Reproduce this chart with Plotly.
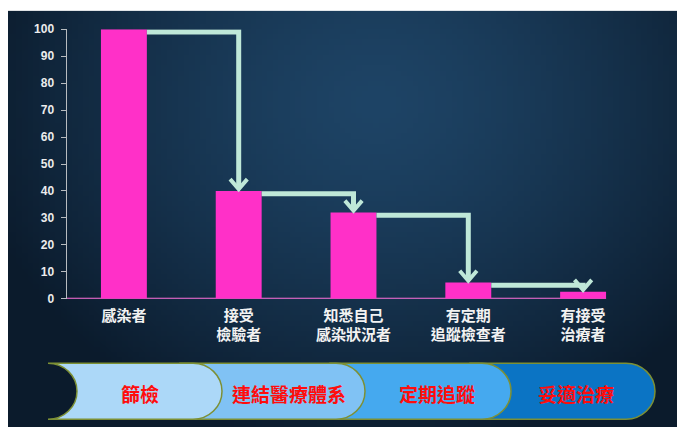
import base64
import struct
import zlib

import plotly.graph_objects as go

# ---------------- data ----------------
categories = ["感染者", "接受<br>檢驗者", "知悉自己<br>感染狀況者", "有定期<br>追蹤檢查者", "有接受<br>治療者"]
values = [100, 40, 32, 6, 2.6]
y_tick_values = [0, 10, 20, 30, 40, 50, 60, 70, 80, 90, 100]
stages = ["篩檢", "連結醫療體系", "定期追蹤", "妥適治療"]

W, H = 683, 434


# ---------------- background vignette (png generated locally) ----------------
def make_png(w, h, fn):
    rows = []
    for j in range(h):
        row = bytearray([0])
        for i in range(w):
            row.extend(fn(i / (w - 1), j / (h - 1)))
        rows.append(bytes(row))
    raw = b"".join(rows)

    def chunk(tag, data):
        c = struct.pack(">I", len(data)) + tag + data
        return c + struct.pack(">I", zlib.crc32(tag + data) & 0xFFFFFFFF)

    png = b"\x89PNG\r\n\x1a\n"
    png += chunk(b"IHDR", struct.pack(">IIBBBBB", w, h, 8, 2, 0, 0, 0))
    png += chunk(b"IDAT", zlib.compress(raw, 9))
    png += chunk(b"IEND", b"")
    return "data:image/png;base64," + base64.b64encode(png).decode()


center_c = (30, 68, 102)
edge_c = (11, 27, 44)


def vignette(u, v):
    d = (((u - 0.55) / 0.62) ** 2 + ((v - 0.22) / 0.85) ** 2) ** 0.5
    t = min(1.0, d) ** 1.4
    return [int(center_c[k] + (edge_c[k] - center_c[k]) * t) for k in range(3)]


bg_src = make_png(120, 80, vignette)

# ---------------- figure ----------------
fig = go.Figure()
fig.add_trace(
    go.Bar(
        x=list(range(len(values))),
        y=values,
        width=0.4,
        marker=dict(color="#ff30c8", line=dict(width=0)),
        hoverinfo="skip",
    )
)

x0_dom = 66.5 / W
x1_dom = 640.5 / W
y0_dom = (H - 301.5) / H
y1_dom = (H - 23) / H

shapes = []

# x-axis pink line
shapes.append(dict(type="line", xref="x", yref="y", x0=-0.5, x1=4.2, y0=0, y1=0,
                   line=dict(color="#ff70dc", width=2), layer="below"))

# elbow arrows between bars
mint = "#bfe8d8"
for i in range(len(values) - 1):
    yh = values[i] - 1.0
    xs = i + 0.2
    xv = i + 1
    tip = values[i + 1]
    shapes.append(dict(type="path", xref="x", yref="y",
                       path=f"M {xs},{yh} L {xv},{yh} L {xv},{tip + 1.5}",
                       line=dict(color=mint, width=5)))
    shapes.append(dict(type="path", xref="x", yref="y",
                       path=f"M {xv - 0.075},{tip + 4.4} L {xv},{tip + 0.7} L {xv + 0.075},{tip + 4.4}",
                       line=dict(color=mint, width=4)))


# process chevron bar (paper coords from pixels)
def P(x, y):
    return f"{x / W:.5f},{1 - y / H:.5f}"


T, B, R = 368.0, 426.0, 29.0
M = (T + B) / 2
k = 0.5523 * R


def right_cap(x0):
    return (f" C {P(x0 + k, T)} {P(x0 + R, M - k)} {P(x0 + R, M)}"
            f" C {P(x0 + R, M + k)} {P(x0 + k, B)} {P(x0, B)}")


seg_specs = [
    (48, 222, "#acd8f8"),
    (180, 365, "#80c2f4"),
    (330, 511, "#45a9ef"),
    (470, 655, "#0b74c4"),
]
outline = "#7d9035"
for idx in reversed(range(len(seg_specs))):
    lx, rx, col = seg_specs[idx]
    x0 = rx - R
    if idx == 0:
        path = (f"M {P(lx, T)} L {P(x0, T)}" + right_cap(x0) + f" L {P(lx, B)}"
                f" C {P(lx + k, B)} {P(lx + R, M + k)} {P(lx + R, M)}"
                f" C {P(lx + R, M - k)} {P(lx + k, T)} {P(lx, T)} Z")
    else:
        path = f"M {P(lx, T)} L {P(x0, T)}" + right_cap(x0) + f" L {P(lx, B)} Z"
    shapes.append(dict(type="path", xref="paper", yref="paper", path=path,
                       fillcolor=col, line=dict(color=outline, width=1.5), layer="above"))

stage_centers = [140, 289, 437, 576]
annotations = []
for name, cx in zip(stages, stage_centers):
    annotations.append(dict(text=name, x=cx / W, y=1 - 399 / H, xref="paper", yref="paper",
                            showarrow=False, xanchor="center", yanchor="middle",
                            font=dict(family="Noto Sans CJK TC", size=19, color="#ff0d0d",
                                      weight="bold")))

fig.update_layout(
    width=W,
    height=H,
    autosize=False,
    margin=dict(l=0, r=0, t=0, b=0, pad=0),
    paper_bgcolor="white",
    plot_bgcolor="rgba(0,0,0,0)",
    showlegend=False,
    shapes=shapes,
    annotations=annotations,
    images=[dict(source=bg_src, xref="paper", yref="paper", x=8 / W, y=1 - 4 / H,
                 sizex=669 / W, sizey=430 / H, sizing="stretch", xanchor="left",
                 yanchor="top", layer="below")],
    xaxis=dict(
        domain=[x0_dom, x1_dom],
        range=[-0.5, 4.5],
        tickvals=list(range(len(categories))),
        ticktext=categories,
        showgrid=False,
        zeroline=False,
        showline=False,
        ticks="",
        tickfont=dict(family="Noto Sans CJK TC", size=15, color="#f2f2f2", weight="bold"),
        ticklabelstandoff=6,
    ),
    yaxis=dict(
        domain=[y0_dom, y1_dom],
        range=[0, 100],
        tickvals=y_tick_values,
        showgrid=False,
        zeroline=False,
        showline=True,
        linecolor="#b8bcc0",
        linewidth=1,
        ticks="outside",
        ticklen=5,
        tickcolor="#b8bcc0",
        tickfont=dict(family="Liberation Sans", size=12, color="#ececec", weight="bold"),
        ticklabelstandoff=4,
    ),
)

post = (
    "var s='margin:0;padding:0;overflow:hidden;width:683px;height:434px;';"
    "document.documentElement.style.cssText=s;"
    "document.body.style.cssText=s;"
    "var d=document.getElementById('{plot_id}');"
    "d.style.position='absolute';d.style.left='0px';d.style.top='0px';"
)

fig.write_html(
    "out.html",
    config={"displayModeBar": False, "responsive": False},
    post_script=post,
)
